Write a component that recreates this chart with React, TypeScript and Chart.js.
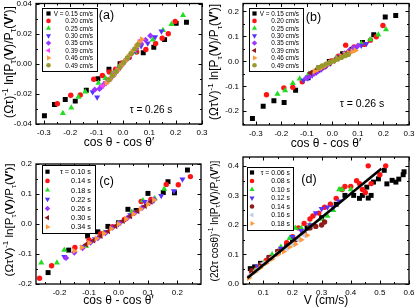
import { useEffect, useRef } from 'react';
import { Chart, registerables } from 'chart.js';

Chart.register(...registerables);

const W = 415;
const H = 308;
const FONT = '"Liberation Sans", Arial, Helvetica, sans-serif';

// ---------------- panel (a) ----------------
const A_LABELS = ['V = 0.15 cm/s', '0.20 cm/s', '0.25 cm/s', '0.30 cm/s', '0.35 cm/s', '0.39 cm/s', '0.46 cm/s', '0.49 cm/s'];
const A_XTICKS = [-0.3, -0.2, -0.1, 0, 0.1, 0.2, 0.3];
const A_YTICKS = [-0.04, -0.02, 0, 0.02, 0.04];
const A_V015 = [[-0.298,-0.0345],[-0.26,-0.027],[-0.219,-0.0237],[-0.181,-0.0248],[-0.139,-0.0176],[-0.095,-0.0099],[-0.053,-0.0037],[-0.011,0.0],[0.077,0.0073],[0.117,0.011],[0.158,0.016],[0.202,0.0268],[0.241,0.0275]];
const A_V020 = [[-0.249,-0.0266],[-0.198,-0.0209],[-0.162,-0.0207],[-0.111,-0.0103],[-0.078,-0.0078],[-0.052,-0.0055],[-0.028,-0.0036],[-0.004,0.0005],[0.024,0.0042],[0.052,0.0078],[0.087,0.0095],[0.124,0.0134],[0.149,0.0169],[0.172,0.0199],[0.198,0.0281]];
const A_V025 = [[-0.228,-0.0328],[-0.196,-0.0292],[-0.169,-0.0221],[-0.143,-0.0186],[-0.093,-0.0127],[-0.066,-0.0096],[-0.041,-0.0064],[-0.016,-0.0022],[0.014,0.0034],[0.044,0.0076],[0.113,0.016],[0.152,0.0222],[0.184,0.0262],[0.228,0.0322]];
const A_V030 = [[-0.115,-0.0187],[-0.098,-0.0222],[-0.081,-0.0152],[-0.064,-0.0127],[-0.046,-0.0099],[-0.029,-0.0064],[-0.011,-0.0026],[0.007,0.0014],[0.027,0.0049],[0.047,0.0086],[0.069,0.0118],[0.094,0.0136],[0.122,0.0178],[0.146,0.0216]];
const A_V035 = [[-0.107,-0.0172],[-0.089,-0.0166],[-0.072,-0.0136],[-0.055,-0.0109],[-0.038,-0.0076],[-0.021,-0.0043],[-0.004,-0.0006],[0.014,0.0029],[0.032,0.0067],[0.05,0.0101],[0.068,0.0134],[0.086,0.0158],[0.104,0.0186]];
const A_V039 = [[-0.078,-0.0148],[-0.062,-0.0122],[-0.047,-0.0093],[-0.032,-0.0064],[-0.017,-0.0033],[-0.002,-0.0003],[0.013,0.0029],[0.028,0.0062],[0.043,0.0095],[0.057,0.0129],[0.067,0.0156]];
const A_V046 = [[-0.063,-0.0129],[-0.049,-0.0105],[-0.035,-0.0076],[-0.021,-0.0045],[-0.007,-0.0013],[0.007,0.0017],[0.021,0.0048],[0.035,0.0081],[0.049,0.0112],[0.061,0.0142],[0.071,0.0163]];
const A_V049 = [[-0.053,-0.0106],[-0.039,-0.0079],[-0.025,-0.0051],[-0.011,-0.0021],[0.003,0.0008],[0.017,0.0038],[0.031,0.0068],[0.045,0.0099],[0.057,0.0126]];

// ---------------- panel (b) ----------------
const B_LABELS = ['V = 0.15 cm/s', '0.20 cm/s', '0.25 cm/s', '0.30 cm/s', '0.35 cm/s', '0.39 cm/s', '0.46 cm/s', '0.49 cm/s'];
const B_XTICKS = [-0.3, -0.2, -0.1, 0, 0.1, 0.2, 0.3];
const B_YTICKS = [-0.2, -0.1, 0, 0.1, 0.2];
const B_V015 = [[-0.313,-0.229],[-0.271,-0.18],[-0.229,-0.158],[-0.189,-0.165],[-0.144,-0.116],[-0.095,-0.066],[-0.052,-0.025],[-0.012,0.0],[0.04,0.031],[0.077,0.049],[0.118,0.076],[0.162,0.107],[0.207,0.178],[0.248,0.184]];
const B_V020 = [[-0.258,-0.134],[-0.19,-0.106],[-0.155,-0.104],[-0.118,-0.082],[-0.085,-0.054],[-0.056,-0.036],[-0.03,-0.021],[-0.005,0.002],[0.024,0.021],[0.052,0.065],[0.085,0.058],[0.124,0.068],[0.149,0.085],[0.172,0.099],[0.198,0.144]];
const B_V025 = [[-0.215,-0.131],[-0.185,-0.117],[-0.155,-0.088],[-0.128,-0.07],[-0.093,-0.051],[-0.066,-0.038],[-0.041,-0.026],[-0.016,-0.009],[0.014,0.014],[0.044,0.03],[0.079,0.05],[0.113,0.072],[0.148,0.088],[0.18,0.107],[0.21,0.128]];
const B_V030 = [[-0.113,-0.076],[-0.096,-0.068],[-0.079,-0.056],[-0.062,-0.045],[-0.044,-0.033],[-0.026,-0.021],[-0.009,-0.008],[0.009,0.005],[0.029,0.017],[0.049,0.029],[0.07,0.04],[0.091,0.05],[0.113,0.064],[0.133,0.071]];
const B_V035 = [[-0.103,-0.067],[-0.087,-0.059],[-0.071,-0.049],[-0.055,-0.039],[-0.039,-0.028],[-0.022,-0.016],[-0.005,-0.004],[0.012,0.008],[0.03,0.02],[0.048,0.032],[0.066,0.044],[0.083,0.055],[0.1,0.063]];
const B_V039 = [[-0.086,-0.046],[-0.071,-0.039],[-0.056,-0.031],[-0.041,-0.023],[-0.026,-0.015],[-0.011,-0.006],[0.004,0.003],[0.019,0.012],[0.034,0.02],[0.049,0.029],[0.061,0.036]];
const B_V046 = [[-0.07,-0.04],[-0.055,-0.032],[-0.04,-0.024],[-0.025,-0.016],[-0.01,-0.006],[0.005,0.003],[0.02,0.011],[0.035,0.02],[0.05,0.028],[0.064,0.034],[0.078,0.039],[0.09,0.044]];
const B_V049 = [[-0.055,-0.025],[-0.04,-0.018],[-0.025,-0.011],[-0.01,-0.004],[0.005,0.002],[0.02,0.009],[0.035,0.016],[0.05,0.023],[0.062,0.028]];

// ---------------- panel (c) ----------------
const C_LABELS = ['τ = 0.10 s', '0.14 s', '0.18 s', '0.22 s', '0.26 s', '0.30 s', '0.34 s'];
const C_XTICKS = [-0.2, -0.1, 0, 0.1, 0.2];
const C_YTICKS = [-0.2, -0.1, 0, 0.1, 0.2];
const C_T010 = [[-0.239,-0.162],[-0.169,-0.087],[-0.105,-0.04],[-0.07,-0.026],[-0.036,-0.008],[0.0,0.004],[0.032,0.049],[0.06,0.045],[0.1,0.102],[0.152,0.105],[0.168,0.141],[0.19,0.104],[0.234,0.18]];
const C_T014 = [[-0.268,-0.181],[-0.227,-0.139],[-0.148,-0.078],[-0.1,-0.053],[-0.06,-0.032],[-0.02,-0.009],[0.02,0.015],[0.05,0.036],[0.077,0.075],[0.11,0.082],[0.162,0.132],[0.203,0.131],[0.244,0.158]];
const C_T018 = [[-0.262,-0.129],[-0.209,-0.129],[-0.184,-0.087],[-0.11,-0.073],[-0.05,-0.03],[0.0,0.002],[0.045,0.04],[0.083,0.078],[0.123,0.085],[0.155,0.117]];
const C_T022 = [[-0.184,-0.109],[-0.122,-0.076],[-0.08,-0.05],[-0.04,-0.026],[0.0,0.0],[0.04,0.03],[0.089,0.074],[0.12,0.078],[0.145,0.094],[0.188,0.11],[0.217,0.149]];
const C_T026 = [[-0.178,-0.113],[-0.15,-0.095],[-0.122,-0.08],[-0.095,-0.062],[-0.07,-0.047],[-0.045,-0.03],[-0.02,-0.012],[0.005,0.004],[0.03,0.02],[0.055,0.037],[0.08,0.054],[0.105,0.07],[0.12,0.082]];
const C_T030 = [[-0.11,-0.068],[-0.085,-0.055],[-0.06,-0.04],[-0.035,-0.024],[-0.01,-0.007],[0.015,0.01],[0.04,0.026],[0.065,0.043],[0.09,0.06],[0.11,0.074]];
const C_T034 = [[-0.15,-0.09],[-0.125,-0.078],[-0.1,-0.063],[-0.075,-0.048],[-0.05,-0.032],[-0.025,-0.016],[0.0,0.0],[0.025,0.017],[0.05,0.033],[0.075,0.05],[0.1,0.066],[0.12,0.08]];

// ---------------- panel (d) ----------------
const D_LABELS = ['τ = 0.06 s', '0.08 s', '0.10 s', '0.12 s', '0.14 s', '0.16 s', '0.18 s'];
const D_XTICKS = [0.1, 0.2, 0.3, 0.4, 0.5, 0.6];
const D_YTICKS = [0, 0.1, 0.2, 0.3, 0.4];
const D_T006 = [[0.055,0.052],[0.07,0.058],[0.09,0.07],[0.12,0.09],[0.15,0.11],[0.2,0.15],[0.25,0.19],[0.3,0.225],[0.35,0.27],[0.38,0.3],[0.41,0.3],[0.43,0.29],[0.44,0.3],[0.455,0.328],[0.46,0.291],[0.47,0.3],[0.478,0.345],[0.495,0.356],[0.515,0.385],[0.524,0.339],[0.542,0.351],[0.555,0.345],[0.565,0.355],[0.58,0.37],[0.583,0.38]];
const D_T008 = [[0.06,0.04],[0.08,0.055],[0.11,0.08],[0.15,0.11],[0.18,0.14],[0.2,0.16],[0.22,0.19],[0.24,0.205],[0.26,0.22],[0.27,0.23],[0.29,0.24],[0.31,0.26],[0.33,0.27],[0.35,0.29],[0.37,0.32],[0.38,0.33],[0.4,0.33],[0.42,0.35],[0.43,0.34],[0.44,0.32],[0.45,0.31],[0.46,0.4],[0.47,0.34],[0.5,0.37],[0.52,0.4]];
const D_T010 = [[0.07,0.045],[0.1,0.07],[0.13,0.1],[0.16,0.125],[0.19,0.155],[0.21,0.19],[0.23,0.19],[0.26,0.2],[0.3,0.22],[0.32,0.23],[0.34,0.25],[0.36,0.32],[0.37,0.32],[0.4,0.32]];
const D_T012 = [[0.08,0.06],[0.12,0.09],[0.16,0.12],[0.2,0.16],[0.23,0.18],[0.26,0.2],[0.28,0.24],[0.3,0.255],[0.32,0.26],[0.34,0.26],[0.36,0.28]];
const D_T014 = [[0.06,0.045],[0.09,0.065],[0.12,0.09],[0.15,0.11],[0.18,0.13],[0.21,0.15],[0.24,0.17],[0.26,0.19],[0.28,0.195],[0.3,0.2],[0.31,0.21]];
const D_T016 = [[0.055,0.03],[0.08,0.05],[0.1,0.07],[0.13,0.09],[0.15,0.105],[0.18,0.12],[0.2,0.135],[0.22,0.15],[0.24,0.165]];
const D_T018 = [[0.05,0.02],[0.07,0.04],[0.09,0.055],[0.11,0.07],[0.13,0.085],[0.15,0.1],[0.17,0.11],[0.19,0.125],[0.21,0.135],[0.23,0.15],[0.25,0.165]];
const D_FIT = [[0.045,0.02],[0.505,0.39]];

// ---------------- styles ----------------
const COL = {
  black: '#000000', red: '#ff1414', green: '#22dd22', blue: '#5a30ff', purple: '#9b35ff',
  magenta: '#ff3cff', wine: '#8e1c1c', orange: '#ff9a3c', olive: '#9a9a2c', lav: '#c6cbea',
};
const MARK: Record<string, { pointStyle: string; rotation: number; r: number }> = {
  sq: { pointStyle: 'rect', rotation: 0, r: 3.5 },
  ci: { pointStyle: 'circle', rotation: 0, r: 2.7 },
  up: { pointStyle: 'triangle', rotation: 0, r: 3.5 },
  dn: { pointStyle: 'triangle', rotation: 180, r: 3.5 },
  lt: { pointStyle: 'triangle', rotation: 270, r: 3.5 },
  rt: { pointStyle: 'triangle', rotation: 90, r: 3.5 },
  di: { pointStyle: 'rectRot', rotation: 0, r: 3.2 },
};

type Seg = [string, string];
const P_PART: Seg[] = [[' ln[P', 'n'], ['τ', 'sub'], ['(', 'n'], ['V', 'b'], [')/P', 'n'], ['τ', 'sub'], ['(', 'n'], ['V′', 'b'], [')]', 'n']];
const Y_TITLE_A: Seg[] = [['(Ωτ)', 'n'], ['-1', 'sup'], ...P_PART];
const Y_TITLE_B: Seg[] = [['(ΩτV)', 'n'], ['-1', 'sup'], ...P_PART];
const Y_TITLE_D: Seg[] = [['(2Ωτ cosθ)', 'n'], ['-1', 'sup'], ...P_PART];

interface Series { data: number[][]; mark: string; color: string; }
interface Panel {
  id: string; L: number; R: number; T: number; B: number; yW: number; xH: number;
  xr: number[]; yr: number[]; xTicks: number[]; yTicks: number[]; xDec: number; yDec: number;
  xMinor: number; yMinor: number; xTitle: string;
  yTitle: Seg[]; yTX: number; yTY: number; yTLen: number;
  series: Series[]; labels: string[];
  legend: { x: number; y: number; w: number; h: number; row0: number; dy: number; mx: number; tr: number; font: number };
  notes: { text: string; x: number; y: number; size: number }[];
  fit?: number[][];
}

const PANELS: Panel[] = [
  {
    id: 'a', L: 36, R: 202, T: 3, B: 124, yW: 30, xH: 26,
    xr: [-0.33, 0.3], yr: [-0.04, 0.04], xTicks: A_XTICKS, yTicks: A_YTICKS, xDec: 1, yDec: 2,
    xMinor: 0.05, yMinor: 0.01, xTitle: 'cos θ - cos θ′',
    yTitle: Y_TITLE_A, yTX: 8.5, yTY: 62, yTLen: 112,
    series: [
      { data: A_V015, mark: 'sq', color: COL.black }, { data: A_V020, mark: 'ci', color: COL.red },
      { data: A_V025, mark: 'up', color: COL.green }, { data: A_V030, mark: 'dn', color: COL.blue },
      { data: A_V035, mark: 'di', color: COL.purple }, { data: A_V039, mark: 'lt', color: COL.magenta },
      { data: A_V046, mark: 'rt', color: COL.orange }, { data: A_V049, mark: 'ci', color: COL.olive },
    ],
    labels: A_LABELS,
    legend: { x: 42, y: 8, w: 55, h: 63, row0: 5.5, dy: 7.4, mx: 6.5, tr: 4, font: 6.4 },
    notes: [{ text: '(a)', x: 106.5, y: 16, size: 12.5 }, { text: 'τ = 0.26 s', x: 151, y: 110, size: 10 }],
  },
  {
    id: 'b', L: 243, R: 409, T: 3, B: 125, yW: 30, xH: 26,
    xr: [-0.35, 0.3], yr: [-0.255, 0.232], xTicks: B_XTICKS, yTicks: B_YTICKS, xDec: 1, yDec: 1,
    xMinor: 0.05, yMinor: 0.05, xTitle: 'cos θ - cos θ′',
    yTitle: Y_TITLE_B, yTX: 214, yTY: 62, yTLen: 116,
    series: [
      { data: B_V015, mark: 'sq', color: COL.black }, { data: B_V020, mark: 'ci', color: COL.red },
      { data: B_V025, mark: 'up', color: COL.green }, { data: B_V030, mark: 'dn', color: COL.blue },
      { data: B_V035, mark: 'di', color: COL.purple }, { data: B_V039, mark: 'lt', color: COL.wine },
      { data: B_V046, mark: 'rt', color: COL.orange }, { data: B_V049, mark: 'ci', color: COL.olive },
    ],
    labels: B_LABELS,
    legend: { x: 249, y: 8, w: 54, h: 63, row0: 5.5, dy: 7.4, mx: 5.5, tr: 4, font: 6.4 },
    notes: [{ text: '(b)', x: 313.5, y: 18, size: 12.5 }, { text: 'τ = 0.26 s', x: 362, y: 104, size: 10.5 }],
  },
  {
    id: 'c', L: 36, R: 201, T: 164, B: 284, yW: 30, xH: 24,
    xr: [-0.28, 0.28], yr: [-0.2, 0.2], xTicks: C_XTICKS, yTicks: C_YTICKS, xDec: 1, yDec: 1,
    xMinor: 0.05, yMinor: 0.05, xTitle: 'cos θ - cos θ′',
    yTitle: Y_TITLE_B, yTX: 8.5, yTY: 220, yTLen: 113,
    series: [
      { data: C_T010, mark: 'sq', color: COL.black }, { data: C_T014, mark: 'ci', color: COL.red },
      { data: C_T018, mark: 'up', color: COL.green }, { data: C_T022, mark: 'dn', color: COL.blue },
      { data: C_T026, mark: 'di', color: COL.purple }, { data: C_T030, mark: 'lt', color: COL.wine },
      { data: C_T034, mark: 'rt', color: COL.orange },
    ],
    labels: C_LABELS,
    legend: { x: 42, y: 165, w: 53, h: 68, row0: 6.7, dy: 9.2, mx: 5.5, tr: 4, font: 7.3 },
    notes: [{ text: '(c)', x: 106.5, y: 181.5, size: 12.5 }],
  },
  {
    id: 'd', L: 243, R: 409, T: 157, B: 284, yW: 30, xH: 24,
    xr: [0.03, 0.6], yr: [0, 0.43], xTicks: D_XTICKS, yTicks: D_YTICKS, xDec: 1, yDec: 1,
    xMinor: 0.05, yMinor: 0.05, xTitle: 'V (cm/s)',
    yTitle: Y_TITLE_D, yTX: 214, yTY: 221, yTLen: 121,
    series: [
      { data: D_T006, mark: 'sq', color: COL.black }, { data: D_T008, mark: 'ci', color: COL.red },
      { data: D_T010, mark: 'up', color: COL.green }, { data: D_T012, mark: 'dn', color: COL.blue },
      { data: D_T014, mark: 'ci', color: COL.wine }, { data: D_T016, mark: 'lt', color: COL.lav },
      { data: D_T018, mark: 'rt', color: COL.orange },
    ],
    labels: D_LABELS,
    legend: { x: 247, y: 167, w: 46, h: 63, row0: 5.5, dy: 8.5, mx: 5, tr: 3, font: 6.9 },
    notes: [{ text: '(d)', x: 309, y: 180, size: 12.5 }],
    fit: D_FIT,
  },
];

function drawMarker(ctx: CanvasRenderingContext2D, mark: string, x: number, y: number, r: number) {
  ctx.beginPath();
  if (mark === 'sq') {
    const s = r * Math.SQRT1_2;
    ctx.rect(x - s, y - s, 2 * s, 2 * s);
  } else if (mark === 'ci') {
    ctx.arc(x, y, r, 0, Math.PI * 2);
  } else if (mark === 'di') {
    ctx.moveTo(x, y - r); ctx.lineTo(x + r, y); ctx.lineTo(x, y + r); ctx.lineTo(x - r, y); ctx.closePath();
  } else {
    let a = (MARK[mark].rotation * Math.PI) / 180;
    ctx.moveTo(x + Math.sin(a) * r, y - Math.cos(a) * r);
    a += (2 * Math.PI) / 3;
    ctx.lineTo(x + Math.sin(a) * r, y - Math.cos(a) * r);
    a += (2 * Math.PI) / 3;
    ctx.lineTo(x + Math.sin(a) * r, y - Math.cos(a) * r);
    ctx.closePath();
  }
  ctx.fill();
}

function drawRich(ctx: CanvasRenderingContext2D, segs: Seg[], cx: number, cy: number, targetLen: number) {
  const fontFor = (k: string, size: number) =>
    (k === 'b' ? 'bold ' : '') + (k === 'sub' || k === 'sup' ? size * 0.68 : size) + 'px ' + FONT;
  const measure = (size: number) => segs.reduce((acc, [t, k]) => {
    ctx.font = fontFor(k, size);
    return acc + ctx.measureText(t).width;
  }, 0);
  const size = (10 * targetLen) / measure(10);
  const total = measure(size);
  ctx.save();
  ctx.translate(cx, cy);
  ctx.rotate(-Math.PI / 2);
  ctx.fillStyle = '#000';
  ctx.textBaseline = 'alphabetic';
  ctx.textAlign = 'left';
  let x = -total / 2;
  const base = size * 0.36;
  for (const [t, k] of segs) {
    ctx.font = fontFor(k, size);
    const dy = k === 'sub' ? size * 0.28 : k === 'sup' ? -size * 0.42 : 0;
    ctx.fillText(t, x, base + dy);
    x += ctx.measureText(t).width;
  }
  ctx.restore();
}

function makeDeco(p: Panel) {
  return {
    id: 'deco_' + p.id,
    afterDraw(chart: any) {
      const ctx: CanvasRenderingContext2D = chart.ctx;
      const { left, right, top, bottom } = chart.chartArea;
      const xs = chart.scales.x;
      const ys = chart.scales.y;
      ctx.save();
      // inward ticks on all four sides
      ctx.strokeStyle = '#000';
      ctx.lineWidth = 1;
      ctx.beginPath();
      const near = (arr: number[], v: number) => arr.some((a) => Math.abs(a - v) < 1e-6);
      const doTicks = (min: number, max: number, step: number, majors: number[], horiz: boolean) => {
        const vals: [number, number][] = [];
        for (let k = Math.ceil(min / step - 1e-9); k * step <= max + 1e-9; k++) {
          const v = k * step;
          vals.push([v, near(majors, v) ? 3.5 : 2]);
        }
        for (const [v, len] of vals) {
          if (horiz) {
            const px = Math.round(xs.getPixelForValue(v)) + 0.5;
            ctx.moveTo(px, bottom); ctx.lineTo(px, bottom - len);
            ctx.moveTo(px, top); ctx.lineTo(px, top + len);
          } else {
            const py = Math.round(ys.getPixelForValue(v)) + 0.5;
            ctx.moveTo(left, py); ctx.lineTo(left + len, py);
            ctx.moveTo(right, py); ctx.lineTo(right - len, py);
          }
        }
      };
      doTicks(p.xr[0], p.xr[1], p.xMinor, p.xTicks, true);
      doTicks(p.yr[0], p.yr[1], p.yMinor, p.yTicks, false);
      ctx.stroke();
      ctx.lineWidth = 1.3;
      ctx.strokeRect(left, top, right - left, bottom - top);

      // legend box
      const lg = p.legend;
      ctx.fillStyle = '#fff';
      ctx.fillRect(lg.x, lg.y, lg.w, lg.h);
      ctx.lineWidth = 1;
      ctx.strokeRect(lg.x + 0.5, lg.y + 0.5, lg.w, lg.h);
      ctx.font = lg.font + 'px ' + FONT;
      ctx.textAlign = 'right';
      ctx.textBaseline = 'middle';
      p.series.forEach((s, i) => {
        const yy = lg.y + lg.row0 + i * lg.dy;
        ctx.fillStyle = s.color;
        drawMarker(ctx, s.mark, lg.x + lg.mx, yy, MARK[s.mark].r * 0.85);
        ctx.fillStyle = '#000';
        ctx.fillText(p.labels[i], lg.x + lg.w - lg.tr, yy + 0.5);
      });

      // notes
      ctx.textAlign = 'center';
      ctx.textBaseline = 'middle';
      ctx.fillStyle = '#000';
      for (const n of p.notes) {
        ctx.font = n.size + 'px ' + FONT;
        ctx.fillText(n.text, n.x, n.y);
      }

      // rotated y title
      drawRich(ctx, p.yTitle, p.yTX, p.yTY, p.yTLen);
      ctx.restore();
    },
  };
}

function buildConfig(p: Panel): any {
  const datasets: any[] = p.series.map((s, i) => ({
    label: p.labels[i],
    data: s.data.map(([x, y]) => ({ x, y })),
    pointStyle: MARK[s.mark].pointStyle,
    rotation: MARK[s.mark].rotation,
    pointRadius: MARK[s.mark].r,
    pointHoverRadius: MARK[s.mark].r,
    backgroundColor: s.color,
    borderColor: s.color,
    borderWidth: 0,
    order: -i,
  }));
  if (p.fit) {
    datasets.push({
      label: 'fit',
      data: p.fit.map(([x, y]) => ({ x, y })),
      showLine: true,
      borderColor: '#000',
      borderWidth: 2.6,
      pointRadius: 0,
      order: -100,
    });
  }
  const tickFont = { family: FONT, size: 8 };
  return {
    type: 'scatter',
    data: { datasets },
    plugins: [makeDeco(p)],
    options: {
      responsive: false,
      animation: false,
      devicePixelRatio: 1,
      events: [],
      layout: { padding: { left: p.L - p.yW, right: W - p.R, top: p.T, bottom: H - p.B - p.xH } },
      plugins: { legend: { display: false }, tooltip: { enabled: false } },
      scales: {
        x: {
          type: 'linear', min: p.xr[0], max: p.xr[1],
          afterBuildTicks: (s: any) => { s.ticks = p.xTicks.map((v) => ({ value: v })); },
          afterFit: (s: any) => { s.height = p.xH; s.paddingLeft = 0; s.paddingRight = 0; },
          grid: { display: false, drawTicks: false },
          border: { display: false },
          ticks: { font: tickFont, color: '#000', padding: 4, maxRotation: 0, autoSkip: false, callback: (v: number) => Number(v).toFixed(p.xDec) },
          title: { display: true, text: p.xTitle, color: '#000', font: { family: FONT, size: 12 }, padding: { top: 0, bottom: 0 } },
        },
        y: {
          type: 'linear', min: p.yr[0], max: p.yr[1],
          afterBuildTicks: (s: any) => { s.ticks = p.yTicks.map((v) => ({ value: v })); },
          afterFit: (s: any) => { s.width = p.yW; s.paddingTop = 0; s.paddingBottom = 0; },
          grid: { display: false, drawTicks: false },
          border: { display: false },
          ticks: { font: tickFont, color: '#000', padding: 4, autoSkip: false, callback: (v: number) => Number(v).toFixed(p.yDec) },
          title: { display: false },
        },
      },
    },
  };
}

function PanelCanvas({ p }: { p: Panel }) {
  const ref = useRef<HTMLCanvasElement>(null);
  useEffect(() => {
    const chart = new Chart(ref.current as HTMLCanvasElement, buildConfig(p));
    return () => chart.destroy();
  }, [p]);
  return (
    <canvas
      ref={ref}
      width={W}
      height={H}
      style={{ position: 'absolute', left: 0, top: 0, width: W, height: H }}
    />
  );
}

export default function App() {
  return (
    <div style={{ position: 'absolute', left: 0, top: 0, width: W, height: H, background: '#fff', overflow: 'hidden' }}>
      {PANELS.map((p) => (
        <PanelCanvas key={p.id} p={p} />
      ))}
    </div>
  );
}
